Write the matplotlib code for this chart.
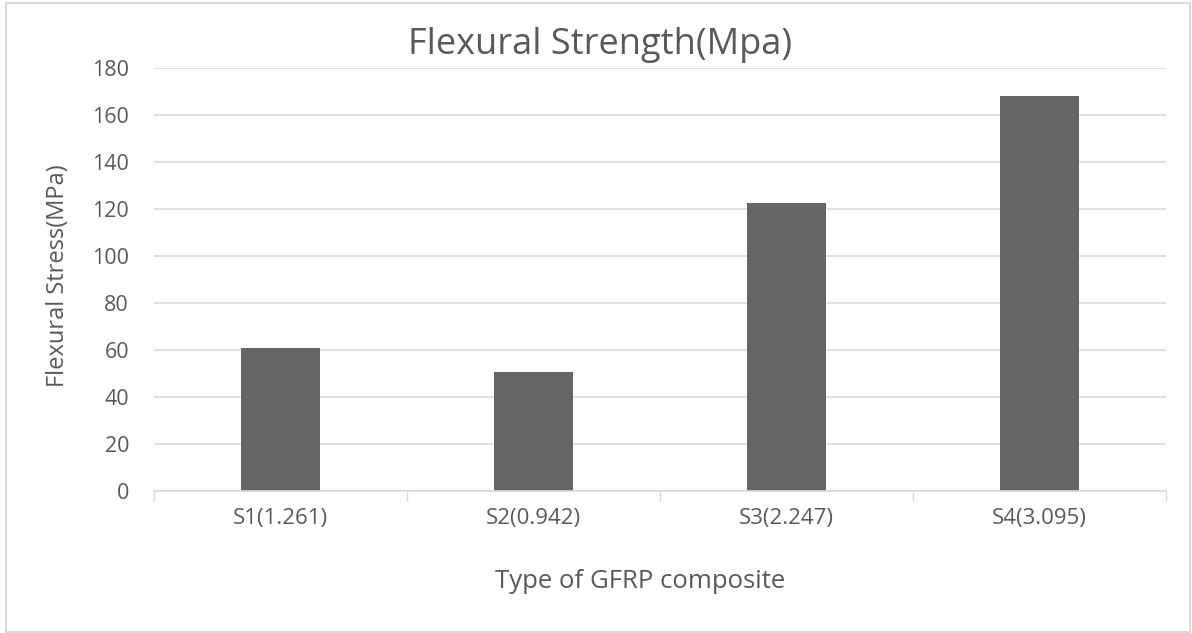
import matplotlib.pyplot as plt
from matplotlib.patches import Rectangle

samples = ['S1(1.261)', 'S2(0.942)', 'S3(2.247)', 'S4(3.095)']
stress = [60.7, 50.7, 122.4, 168.0]
yticks = [0, 20, 40, 60, 80, 100, 120, 140, 160, 180]

plt.rcParams['font.family'] = ['Open Sans', 'DejaVu Sans']
txt = '#595959'
grid = '#d9d9d9'

fig = plt.figure(figsize=(11.92, 6.33), dpi=100)
ax = fig.add_axes([154/1192, 1 - 491/633, (1166 - 154)/1192, (491 - 68)/633])

x = list(range(len(samples)))
ax.bar(x, stress, width=0.31, color='#666666', zorder=3)

ax.set_xlim(-0.5, len(samples) - 0.5)
ax.set_ylim(0, 180)
ax.set_yticks(yticks)
ax.set_yticklabels([str(v) for v in yticks], fontsize=15.5, color=txt)
ax.set_xticks(x)
ax.set_xticklabels(samples, fontsize=16, color=txt)
ax.tick_params(axis='y', length=0, pad=18)
ax.tick_params(axis='x', length=0, pad=12)

# category boundary ticks on the x axis
ax.set_xticks([i - 0.5 for i in range(len(samples) + 1)], minor=True)
ax.tick_params(axis='x', which='minor', length=7, color=grid, width=1)

ax.yaxis.grid(True, color=grid, linewidth=1.2, zorder=0)
for s in ['top', 'right', 'left']:
    ax.spines[s].set_visible(False)
ax.spines['bottom'].set_color(grid)
ax.spines['bottom'].set_linewidth(1.2)
ax.spines['bottom'].set_zorder(4)

fig.text(0.503, 1 - 45/633, 'Flexural Strength(Mpa)', ha='center', va='center',
         fontsize=26, color=txt)
fig.text(58/1192, 1 - 276/633, 'Flexural Stress(MPa)', ha='center', va='center',
         rotation=90, fontsize=17, color=txt)
fig.text(640/1192, 1 - 582/633, 'Type of GFRP composite', ha='center', va='center',
         fontsize=18.5, color=txt)

# light frame around the chart area
fig.patches.append(Rectangle((6/1192, 0.002), 1 - 8/1192, 0.994, transform=fig.transFigure,
                             fill=False, edgecolor=grid, linewidth=1.5))

fig.savefig('out.png', dpi=100, facecolor='white')
